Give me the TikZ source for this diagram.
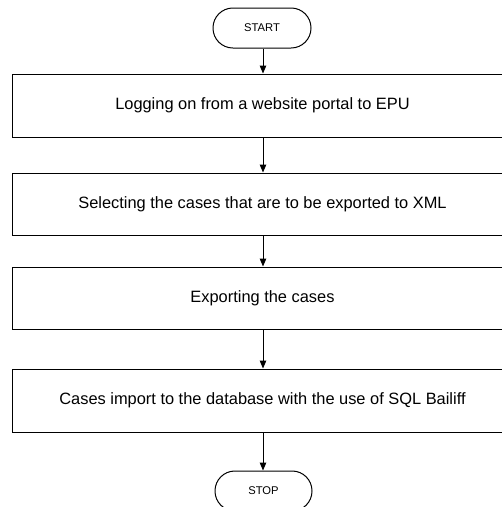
\documentclass[tikz,border=0pt]{standalone}
\usepackage{fontspec}
\setmainfont{Liberation Sans}
\usetikzlibrary{arrows.meta}
\begin{document}
\begin{tikzpicture}[x=1pt,y=-1pt,
  stepbox/.style={draw, line width=1pt, rectangle, minimum width=501pt, inner sep=0pt,
    font=\fontsize{16.4}{19}\selectfont},
  term/.style={draw, line width=1pt, rectangle, rounded corners=19.9pt, minimum width=98pt,
    minimum height=40pt, inner sep=0pt, font=\fontsize{11.2}{13}\selectfont},
  flow/.style={line width=1pt, -{Triangle[length=8pt,width=6.5pt]}}]
\useasboundingbox (0,0) rectangle (502,507);
\node[term] (start) at (262,28) {START};
\node[stepbox, minimum height=63pt] (b1) at (262.5,105.5) {Logging on from a website portal to EPU};
\node[stepbox, minimum height=62pt] (b2) at (262.5,204) {Selecting the cases that are to be exported to XML};
\node[stepbox, minimum height=62pt] (b3) at (262.5,298) {Exporting the cases};
\node[stepbox, minimum height=63pt] (b4) at (262.5,400.5) {Cases import to the database with the use of SQL Bailiff};
\node[term, minimum width=97pt] (stop) at (263.5,491) {STOP};
\draw[flow] (start.south -| 263,0) -- (b1.north -| 263,0);
\draw[flow] (b1.south -| 263,0) -- (b2.north -| 263,0);
\draw[flow] (b2.south -| 263,0) -- (b3.north -| 263,0);
\draw[flow] (b3.south -| 263,0) -- (b4.north -| 263,0);
\draw[flow] (b4.south -| 263,0) -- (stop.north -| 263,0);
\end{tikzpicture}
\end{document}
